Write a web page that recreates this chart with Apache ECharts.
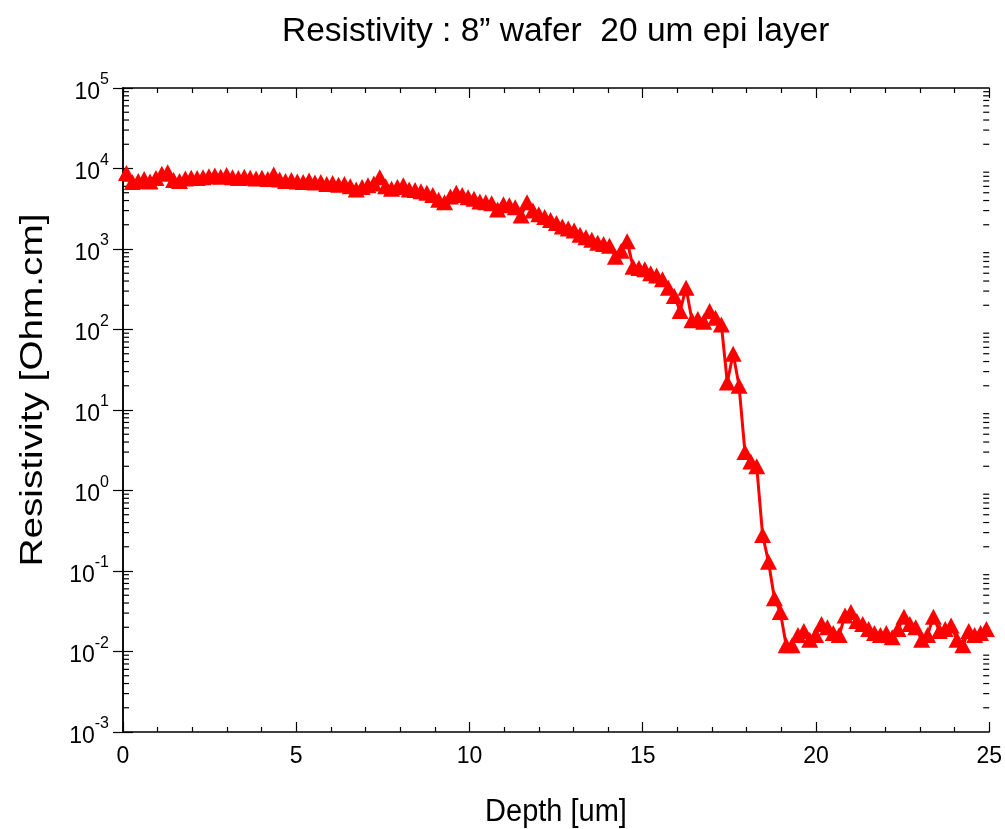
<!DOCTYPE html>
<html><head><meta charset="utf-8">
<script src="https://cdn.jsdelivr.net/npm/echarts@6/dist/echarts.min.js"></script>
<style>html,body{margin:0;padding:0;background:#fff}#c{width:1005px;height:829px}</style>
</head><body><div id="c"></div>
<script>
const titleText = 'Resistivity : 8\u201D wafer  20 um epi layer';
const xName = 'Depth [um]';
const yName = 'Resistivity [Ohm.cm]';

const depth = [0.10,0.27,0.44,0.61,0.78,0.95,1.12,1.29,1.46,1.63,1.80,1.97,2.14,2.31,2.48,2.65,2.82,2.99,3.16,3.33,
3.50,3.67,3.84,4.01,4.18,4.35,4.52,4.69,4.86,5.03,5.20,5.37,5.54,5.71,5.88,6.05,6.22,6.39,6.56,6.73,
6.90,7.07,7.24,7.41,7.58,7.75,7.92,8.09,8.26,8.43,8.60,8.77,8.94,9.11,9.28,9.45,9.62,9.79,9.96,10.13,
10.30,10.47,10.64,10.81,10.98,11.15,11.32,11.49,11.66,11.83,12.00,12.17,12.34,12.51,12.68,12.85,13.02,13.19,13.36,13.53,
13.70,13.87,14.04,14.21,14.38,14.55,14.72,14.89,15.06,15.23,15.40,15.57,15.74,15.91,16.08,16.25,16.42,16.59,16.76,16.93,
17.10,17.27,17.44,17.61,17.78,17.95,18.12,18.29,18.46,18.63,18.80,18.97,19.14,19.31,19.48,19.65,19.82,19.99,20.16,20.33,
20.50,20.67,20.84,21.01,21.18,21.35,21.52,21.69,21.86,22.03,22.20,22.37,22.54,22.71,22.88,23.05,23.22,23.39,23.56,23.73,
23.90,24.07,24.24,24.41,24.58,24.75,24.92];

const resistivity = [8800,6800,7000,7400,6900,7600,8600,9000,7200,7000,7500,7700,7600,7800,8000,8200,7900,8300,7800,7600,
7900,7700,7500,7700,7400,8400,7300,7000,7200,6900,6800,7100,6700,6800,6400,6600,6300,6400,6000,5500,
5900,6200,6500,7800,6000,5600,5900,6200,5500,5400,5200,5000,4700,4100,3800,4500,5000,4700,4400,4200,
3900,3800,3700,3100,3600,3500,3300,2600,3800,3000,2700,2500,2300,2100,1900,1800,1700,1500,1400,1300,
1200,1150,1100,800,950,1250,600,580,560,500,470,420,330,260,170,330,130,135,125,170,
140,115,22,50,20,3.0,2.3,2.0,0.28,0.13,0.046,0.031,0.012,0.012,0.016,0.018,0.014,0.016,0.022,0.020,
0.017,0.016,0.028,0.031,0.024,0.022,0.019,0.017,0.016,0.017,0.015,0.019,0.027,0.022,0.020,0.014,0.016,0.027,0.018,0.019,
0.021,0.014,0.012,0.018,0.016,0.017,0.019];

const xMin = 0, xMax = 25, xStep = 5;
const yMinExp = -3, yMaxExp = 5;
const minorMantissas = [2,3,4,5,6,7,8,9];

const minorTickValues = [];
for (let e = yMinExp; e < yMaxExp; e++) {
  for (const m of minorMantissas) minorTickValues.push(m * Math.pow(10, e));
}

const chart = echarts.init(document.getElementById('c'), null, {renderer: 'canvas'});
const FONT = 'Liberation Sans, Arial, sans-serif';
const axisLineStyle = {color: '#000', width: 1.5};

function yLabel(v) {
  const e = Math.round(Math.log10(v));
  return '{b|10}{s|' + e + '}';
}

const option = {
  animation: false,
  backgroundColor: '#fff',
  grid: {left: 123, right: 15, top: 88, bottom: 97, containLabel: false},
  title: {
    text: titleText, left: 277, top: 10,
    textStyle: {fontFamily: FONT, fontSize: 33.5, fontWeight: 'normal', color: '#000'}
  },
  xAxis: [{
    type: 'value', min: xMin, max: xMax, interval: xStep, position: 'bottom',
    axisLine: {show: true, lineStyle: axisLineStyle},
    axisTick: {show: true, inside: true, length: 10, lineStyle: {color: '#000', width: 1.2}},
    minorTick: {show: true, splitNumber: 5, length: 5, lineStyle: {color: '#000', width: 1.2}},
    axisLabel: {margin: 13, fontFamily: FONT, fontSize: 23, color: '#000'},
    splitLine: {show: false}
  }, {
    type: 'value', min: xMin, max: xMax, interval: xStep, position: 'top',
    axisLine: {show: true, lineStyle: axisLineStyle},
    axisTick: {show: true, inside: true, length: 10, lineStyle: {color: '#000', width: 1.2}},
    minorTick: {show: true, splitNumber: 5, length: 5, lineStyle: {color: '#000', width: 1.2}},
    axisLabel: {show: false},
    splitLine: {show: false}
  }],
  yAxis: [{
    type: 'log', logBase: 10, min: Math.pow(10, yMinExp), max: Math.pow(10, yMaxExp), interval: 1,
    position: 'left',
    axisLine: {show: true, lineStyle: axisLineStyle},
    axisTick: {show: true, inside: true, length: 10, lineStyle: {color: '#000', width: 1.2}},
    axisLabel: {
      margin: 14, formatter: yLabel, color: '#000',
      rich: {
        b: {fontFamily: FONT, fontSize: 23, color: '#000', lineHeight: 32, verticalAlign: 'bottom'},
        s: {fontFamily: FONT, fontSize: 16, color: '#000', lineHeight: 32, verticalAlign: 'top'}
      }
    },
    splitLine: {show: false}
  }, {
    type: 'log', logBase: 10, min: Math.pow(10, yMinExp), max: Math.pow(10, yMaxExp), interval: 1,
    position: 'right',
    axisLine: {show: true, lineStyle: axisLineStyle},
    axisTick: {show: true, inside: true, length: 10, lineStyle: {color: '#000', width: 1.2}},
    axisLabel: {show: false},
    splitLine: {show: false}
  }],
  graphic: [{
    type: 'text', x: 33, y: 390, rotation: Math.PI / 2, scaleX: 1.25,
    style: {text: yName, font: '31px ' + FONT, fill: '#000', textAlign: 'center', textVerticalAlign: 'middle'}
  }, {
    type: 'text', x: 556, y: 812, scaleY: 1.1,
    style: {text: xName, font: '29px ' + FONT, fill: '#000', textAlign: 'center', textVerticalAlign: 'middle'}
  }],
  series: [{
    type: 'custom', coordinateSystem: 'cartesian2d', xAxisIndex: 0, yAxisIndex: 0, silent: true, z: 1,
    data: minorTickValues.map(v => [xMin, v]),
    renderItem: function (params, api) {
      const v = api.value(1);
      const pL = api.coord([xMin, v]);
      const pR = api.coord([xMax, v]);
      return {type: 'group', children: [
        {type: 'line', shape: {x1: pL[0], y1: pL[1], x2: pL[0] + 6, y2: pL[1]}, style: {stroke: '#000', lineWidth: 1.2}},
        {type: 'line', shape: {x1: pR[0] - 6, y1: pR[1], x2: pR[0], y2: pR[1]}, style: {stroke: '#000', lineWidth: 1.2}}
      ]};
    }
  }, {
    type: 'line', xAxisIndex: 0, yAxisIndex: 0, z: 3,
    data: depth.map((d, i) => [d, resistivity[i]]),
    symbol: 'triangle', symbolSize: [17, 16], showAllSymbol: true,
    itemStyle: {color: '#ff0000'},
    lineStyle: {color: '#ff0000', width: 3},
    clip: false
  }]
};
chart.setOption(option);
</script>
</body></html>
